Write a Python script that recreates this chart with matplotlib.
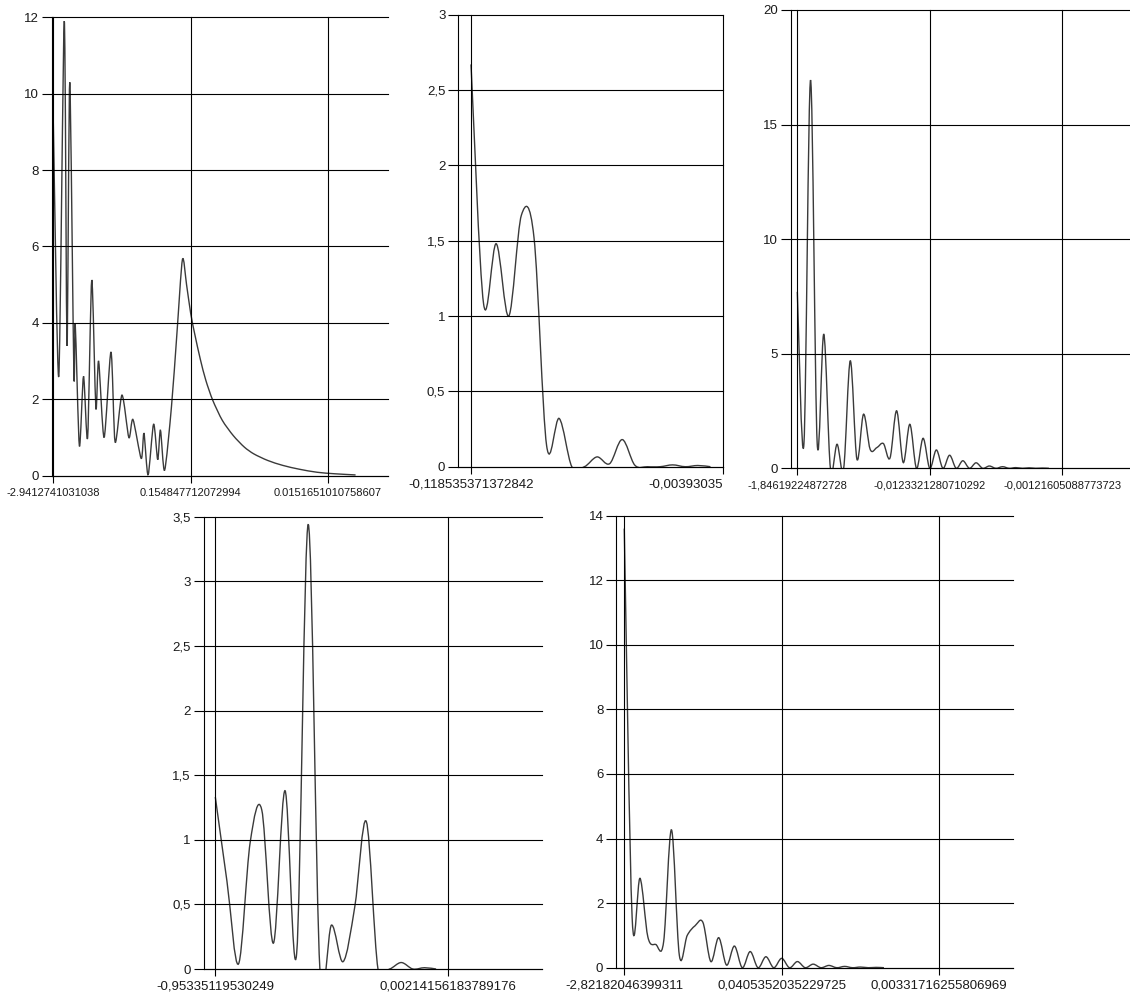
import numpy as np
import matplotlib
matplotlib.use('Agg')
import matplotlib.pyplot as plt
from matplotlib.path import Path
from matplotlib.patches import PathPatch

plt.rcParams['font.family'] = ['Liberation Sans', 'DejaVu Sans']

# ---- data (category index -> value) ----
p1_idx = [1, 5, 9, 11, 13, 16, 17, 20, 23, 26, 29, 32, 34, 38, 43, 46, 51, 56, 59,
          65, 67, 70, 74, 77, 79, 82, 87, 91, 95, 98, 101, 104, 108, 112, 117, 124,
          132, 140, 147, 157, 168, 180, 193, 206, 221]
p1_val = [9.3, 2.6, 11.9, 3.4, 10.3, 2.65, 3.95, 0.78, 2.6, 1.0, 5.12, 1.77, 3.0, 1.0,
          3.24, 0.88, 2.11, 1.0, 1.47, 0.45, 1.11, 0.02, 1.35, 0.42, 1.19, 0.14, 1.8,
          3.73, 5.66, 5.0, 4.25, 3.7, 3.05, 2.5, 1.98, 1.45, 1.05, 0.75, 0.57, 0.4,
          0.27, 0.17, 0.09, 0.05, 0.02]
p1_xlabels = ['-2.9412741031038', '0.154847712072994', '0.0151651010758607']

p2_val = [2.67, 1.08, 1.48, 1.0, 1.67, 1.52, 0.14, 0.32, 0.0, 0.0, 0.065, 0.02, 0.18,
          0.01, 0.0, 0.0, 0.012, 0.0, 0.008, 0.0]
p2_xlabels = ['-0,118535371372842', '-0,00393035']

p3_val = [7.7, 1.08, 16.94, 1.1, 5.85, 0.0, 1.05, 0.0, 4.69, 0.4, 2.36, 0.83, 0.9, 1.08,
          0.45, 2.51, 0.25, 1.92, 0.0, 1.31, 0.0, 0.8, 0.0, 0.57, 0.0, 0.33, 0.0, 0.24,
          0.0, 0.1, 0.0, 0.07, 0.0, 0.03, 0.0, 0.02, 0.0, 0.01, 0.0]
p3_xlabels = ['-1,84619224872728', '-0,0123321280710292', '-0,00121605088773723']

p4_val = [1.33, 0.68, 0.04, 0.98, 1.23, 0.2, 1.38, 0.12, 3.44, 0.0, 0.34, 0.057, 0.48,
          1.14, 0.0, 0.0, 0.05, 0.0, 0.01, 0.0]
p4_xlabels = ['-0,95335119530249', '0,00214156183789176']

p5_val = [13.6, 1.55, 2.77, 0.95, 0.72, 0.8, 4.27, 0.38, 1.0, 1.3, 1.4, 0.19, 0.93, 0.08,
          0.67, 0.0, 0.5, 0.0, 0.34, 0.0, 0.29, 0.0, 0.19, 0.0, 0.11, 0.0, 0.07, 0.0,
          0.04, 0.0, 0.02, 0.0, 0.01, 0.0]
p5_xlabels = ['-2,82182046399311', '0,0405352035229725', '0,00331716255806969']

W, H = 1130, 996


def spline_path(xs, ys, tension):
    # cardinal spline as cubic bezier segments (like a GDI+ curve)
    pts = np.column_stack([xs, ys]).astype(float)
    n = len(pts)
    verts = [pts[0]]
    codes = [Path.MOVETO]
    for i in range(n - 1):
        p0 = pts[i - 1] if i > 0 else pts[i]
        p1 = pts[i]
        p2 = pts[i + 1]
        p3 = pts[i + 2] if i + 2 < n else pts[i + 1]
        verts += [p1 + tension / 3 * (p2 - p0), p2 - tension / 3 * (p3 - p1), p2]
        codes += [Path.CURVE4] * 3
    return Path(verts, codes)


def fmt(v):
    return ('%g' % v).replace('.', ',')


def panel(box, xmax, xs, ys, ymax, ystep, xticks, xlabels, xfs, tension, dot=False):
    l, r, t, b = box
    ax = fig.add_axes([l / W, 1 - b / H, (r - l) / W, (b - t) / H])
    ax.set_xlim(0, xmax)
    ax.set_ylim(0, ymax)
    yt = np.arange(0, ymax + ystep / 2, ystep)
    ax.set_yticks(yt)
    ax.set_yticklabels([('%g' % v) if dot else fmt(v) for v in yt], fontsize=9.5)
    ax.set_xticks(xticks)
    ax.set_xticklabels(xlabels, fontsize=xfs)
    ax.grid(True, color='black', lw=0.8)
    for gl in ax.get_xgridlines() + ax.get_ygridlines():
        gl.set_clip_on(False)
    for s in ['top', 'right']:
        ax.spines[s].set_visible(False)
    for s in ['left', 'bottom']:
        ax.spines[s].set_color('black')
        ax.spines[s].set_linewidth(0.8)
    ax.tick_params(axis='y', length=7.2, width=0.8, pad=2.2, color='black', labelcolor='#1a1a1a')
    ax.tick_params(axis='x', length=5, width=0.8, pad=3.5, color='black', labelcolor='#1a1a1a')
    ax.set_facecolor('none')
    ax.add_patch(PathPatch(spline_path(xs, ys, tension), fill=False,
                           ec='#3a3a3a', lw=1.0))
    return ax


fig = plt.figure(figsize=(W / 100, H / 100), dpi=100)

panel((51.9, 388, 17.3, 475.7), 244.6, p1_idx, p1_val, 12, 2,
      [1, 101, 201], p1_xlabels, 8, 0.4, dot=True)

ax2 = panel((458.4, 723.3, 14.7, 466.7), 21.02, np.arange(1, len(p2_val) + 1), p2_val,
            3, 0.5, [1, 21], p2_xlabels, 9.5, 0.5)
ax2.get_xticklabels()[1].set_ha('right')

panel((790.7, 1130, 10, 468.3), 51.25, np.arange(1, len(p3_val) + 1), p3_val,
      20, 5, [1, 21, 41], p3_xlabels, 8, 0.5)

panel((203.7, 541.7, 516.7, 969), 29.09, np.arange(1, len(p4_val) + 1), p4_val,
      3.5, 0.5, [1, 21], p4_xlabels, 9.5, 0.5)

panel((616.4, 1012.7, 515.7, 967.7), 50.36, np.arange(1, len(p5_val) + 1), p5_val,
      14, 2, [1, 21, 41], p5_xlabels, 9.5, 0.5)

fig.savefig('out.png', dpi=100)
